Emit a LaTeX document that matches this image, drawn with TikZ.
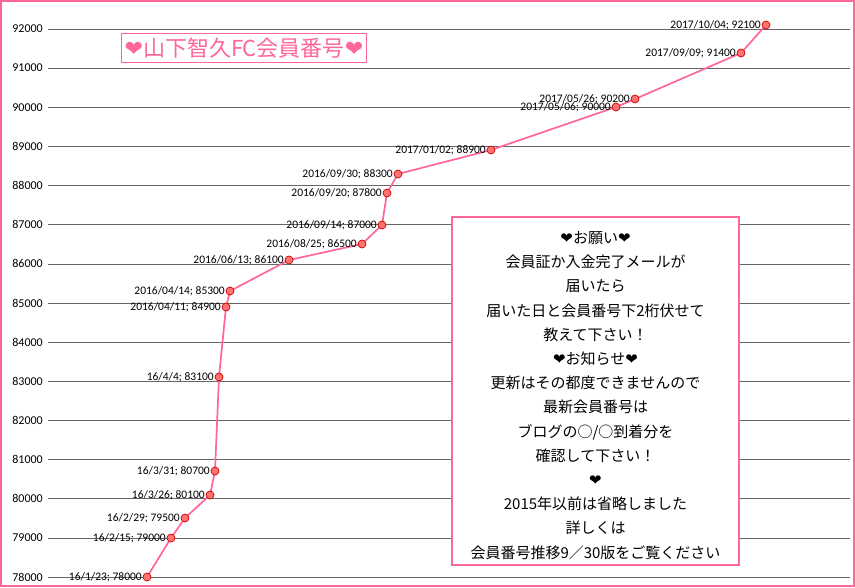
\documentclass[tikz,border=0pt]{standalone}
\usepackage{fontspec}
\setmainfont{Carlito}
\newfontfamily\jp{Noto Sans CJK JP}
\newfontfamily\dv{DejaVu Sans}
\begin{document}
\begin{tikzpicture}[x=1pt,y=-1pt,
  pt/.style={circle,draw=red!80!black,fill=pink!60!red,inner sep=0pt,minimum size=8pt,line width=0.7pt},
  lab/.style={anchor=east,font=\fontsize{11.5}{11.5}\selectfont,inner sep=1pt},
  ax/.style={anchor=east,font=\fontsize{12}{12}\selectfont,inner sep=0pt}]
\definecolor{pk}{RGB}{255,102,153}
\useasboundingbox (0,0) rectangle (855,587);
\draw[pk,line width=1.2pt] (1,1) rectangle (854,586);
\foreach \i in {0,...,14}{
  \pgfmathsetmacro\yy{577-\i*39.143}
  \draw[gray!120,line width=0.7pt] (48,\yy) -- (850,\yy);
  \node[ax] at (43,\yy) {\the\numexpr78000+\i*1000\relax};
}
\coordinate (c1) at (147,577);
\coordinate (c2) at (171,538);
\coordinate (c3) at (185,518);
\coordinate (c4) at (210,495);
\coordinate (c5) at (215,471);
\coordinate (c6) at (219,377);
\coordinate (c7) at (226,307);
\coordinate (c8) at (230,291);
\coordinate (c9) at (289,260);
\coordinate (c10) at (362,244);
\coordinate (c11) at (382,225);
\coordinate (c12) at (387,193);
\coordinate (c13) at (398,174);
\coordinate (c14) at (491,150);
\coordinate (c15) at (616,107);
\coordinate (c16) at (635,99);
\coordinate (c17) at (741,53);
\coordinate (c18) at (766,25);
\draw[pk,line width=1.7pt] (c1)--(c2)--(c3)--(c4)--(c5)--(c6)--(c7)--(c8)--(c9)--(c10)--(c11)--(c12)--(c13)--(c14)--(c15)--(c16)--(c17)--(c18);
\foreach \c in {c1,c2,c3,c4,c5,c6,c7,c8,c9,c10,c11,c12,c13,c14,c15,c16,c17,c18}{
  \node[pt] (p\c) at (\c) {};
}
\node[lab] at ([xshift=-4pt]c1) {16/1/23; 78000};
\node[lab] at ([xshift=-4pt]c2) {16/2/15; 79000};
\node[lab] at ([xshift=-4pt]c3) {16/2/29; 79500};
\node[lab] at ([xshift=-4pt]c4) {16/3/26; 80100};
\node[lab] at ([xshift=-4pt]c5) {16/3/31; 80700};
\node[lab] at ([xshift=-4pt]c6) {16/4/4; 83100};
\node[lab] at ([xshift=-4pt]c7) {2016/04/11; 84900};
\node[lab] at ([xshift=-4pt]c8) {2016/04/14; 85300};
\node[lab] at ([xshift=-4pt]c9) {2016/06/13; 86100};
\node[lab] at ([xshift=-4pt]c10) {2016/08/25; 86500};
\node[lab] at ([xshift=-4pt]c11) {2016/09/14; 87000};
\node[lab] at ([xshift=-4pt]c12) {2016/09/20; 87800};
\node[lab] at ([xshift=-4pt]c13) {2016/09/30; 88300};
\node[lab] at ([xshift=-4pt]c14) {2017/01/02; 88900};
\node[lab] at ([xshift=-4pt]c15) {2017/05/06; 90000};
\node[lab] at ([xshift=-4pt]c16) {2017/05/26; 90200};
\node[lab] at ([xshift=-4pt]c17) {2017/09/09; 91400};
\node[lab] at ([xshift=-4pt]c18) {2017/10/04; 92100};
\node[draw=pk,line width=0.9pt,fill=white,text=pk,inner xsep=3pt,inner ysep=4pt,font=\jp\fontsize{22}{22}\selectfont] (title) at (244,48) {{\dv ❤}山下智久FC会員番号{\dv ❤}};
\node[draw=pk,line width=1.5pt,fill=white,minimum width=287pt,minimum height=348pt] (box) at (595.5,391) {};
\node[align=center,font=\jp\fontsize{15}{24.2}\selectfont,anchor=north] (msg) at (595.5,228) {{\dv ❤}お願い{\dv ❤}\\会員証か入金完了メールが\\届いたら\\届いた日と会員番号下2桁伏せて\\教えて下さい！\\{\dv ❤}お知らせ{\dv ❤}\\更新はその都度できませんので\\最新会員番号は\\ブログの○/○到着分を\\確認して下さい！\\{\dv ❤}\\2015年以前は省略しました\\詳しくは\\会員番号推移9／30版をご覧ください};
\end{tikzpicture}
\end{document}
